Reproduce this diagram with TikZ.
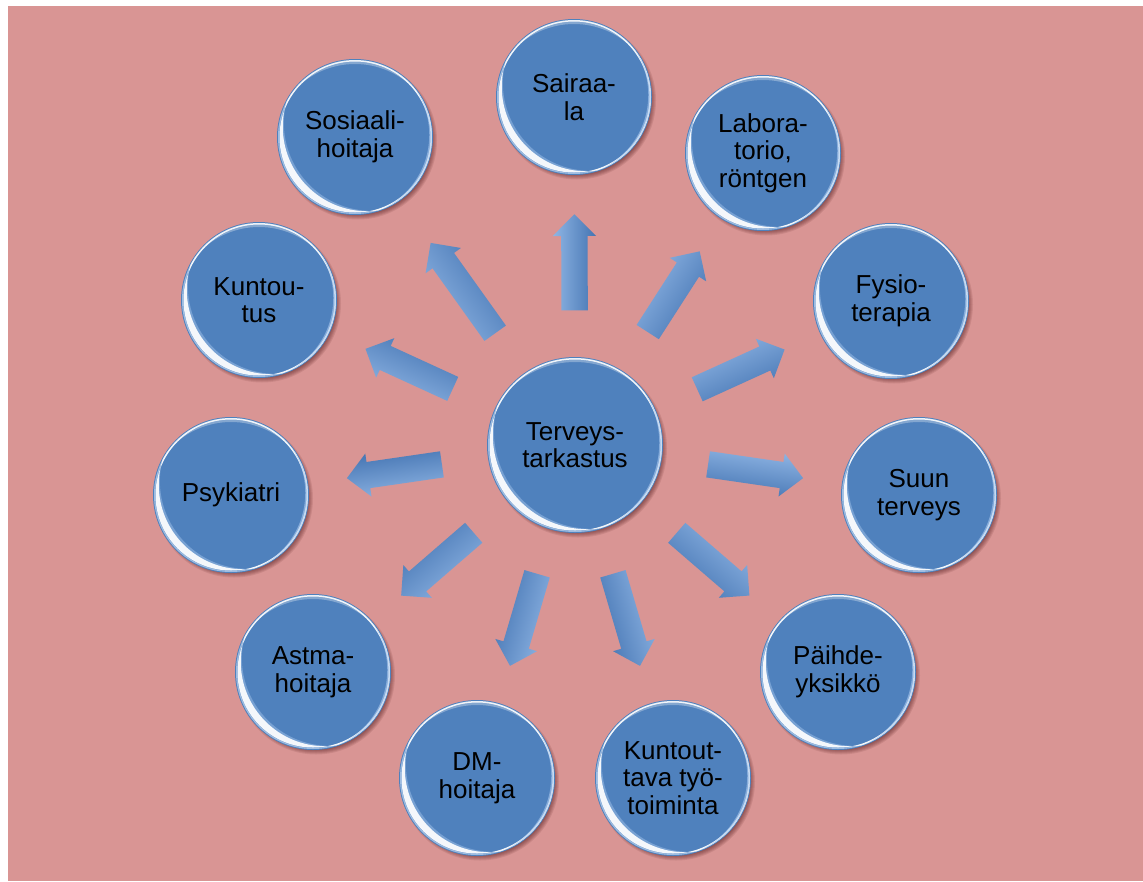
\documentclass[tikz,border=0pt]{standalone}
\usepackage{fontspec}
\setmainfont{Liberation Sans}
\usetikzlibrary{shapes.arrows,calc}
\definecolor{bgpink}{HTML}{D99594}
\definecolor{cblue}{HTML}{4F81BD}
\definecolor{alight}{HTML}{8FB5E4}
\definecolor{adark}{HTML}{4474B2}
\definecolor{rimblue}{HTML}{A9C8EE}
\pgfdeclarelayer{bgl}
\pgfdeclarelayer{shadowl}
\pgfsetlayers{bgl,shadowl,main}
% crescent: #1 node, #2 outer radius, #3 direction of the inner circle shift, #4 shift, #5 extra radius, #6 style
\newcommand\crescent[6]{%
  \fill[#6, even odd rule] (#1.center) circle ({(#2)*1pt})
    ($(#1.center)+(#3:#4)$) circle ({(#2+#5)*1pt});}
\newcommand\glossy[2]{%
  \begin{pgfonlayer}{shadowl}
    \foreach \k in {0,...,6}
      \fill[black!80!red, opacity=0.09] ($(#1.center)+(3,-3.5)$) circle ({(#2+1-\k)*1pt});
  \end{pgfonlayer}
  \begin{scope}
    \clip (#1.center) circle ({(#2-1)*1pt});
    \crescent{#1}{#2-1}{40}{22}{11}{rimblue, opacity=0.45}
    \crescent{#1}{#2-2.5}{40}{16}{9}{white, opacity=0.92}
    \crescent{#1}{#2-2}{-90}{10}{7}{white, opacity=0.3}
    \crescent{#1}{#2-1}{165}{8}{5}{rimblue, opacity=0.6}
  \end{scope}}
\begin{document}
\begin{tikzpicture}[x=1pt,y=1pt,
  bubble/.style={circle, fill=cblue, minimum size=156pt, inner sep=0pt, align=center,
    font=\fontsize{26}{27.5}\selectfont, text=black},
  hub/.style={bubble, minimum size=176pt},
  blockarrow/.style={single arrow, single arrow head extend=8.5pt, inner sep=13pt,
    minimum height=96pt, shading=axis, top color=alight, bottom color=adark, draw=none,
    sloped, allow upside down}
]
\useasboundingbox (0,0) rectangle (1143,-881);
\begin{pgfonlayer}{bgl}
  \fill[white] (0,0) rectangle (1143,-881);
  \fill[bgpink] (8,-6) rectangle (1143,-881);
\end{pgfonlayer}

\node[hub] (C) at (575,-445) {Terveys-\\tarkastus};
\node[bubble] (n1) at (574,-97) {Sairaa-\\la};
\node[bubble] (n2) at (763,-153) {Labora-\\torio,\\röntgen};
\node[bubble] (n3) at (891,-301) {Fysio-\\terapia};
\node[bubble] (n4) at (919,-495) {Suun\\terveys};
\node[bubble] (n5) at (838,-672) {Päihde-\\yksikkö};
\node[bubble] (n6) at (673,-778) {Kuntout-\\tava työ-\\toiminta};
\node[bubble] (n7) at (477,-778) {DM-\\hoitaja};
\node[bubble] (n8) at (313,-672) {Astma-\\hoitaja};
\node[bubble] (n9) at (231,-495) {Psykiatri};
\node[bubble] (n10) at (259,-300) {Kuntou-\\tus};
\node[bubble] (n11) at (355,-137) {Sosiaali-\\hoitaja};

\glossy{C}{88}
\foreach \n in {n1,n2,n3,n4,n5,n6,n7,n8,n9,n10,n11} {\glossy{\n}{78}}

\foreach \n/\a in {n1/90,n2/57.2,n3/24.5,n4/-8.3,n5/-40.8,n6/-73.6,n7/-106.4,n8/-139.2,n9/-171.7,n10/155.4}
  \path (C.center) -- (\n.center) node[blockarrow, shading angle=\a, pos=0.506] (a-\n) {};
\path (C.center) -- (n11.center) node[blockarrow, shading angle=125.6, pos=0.492, minimum height=111pt] (a-n11) {};
\end{tikzpicture}
\end{document}
